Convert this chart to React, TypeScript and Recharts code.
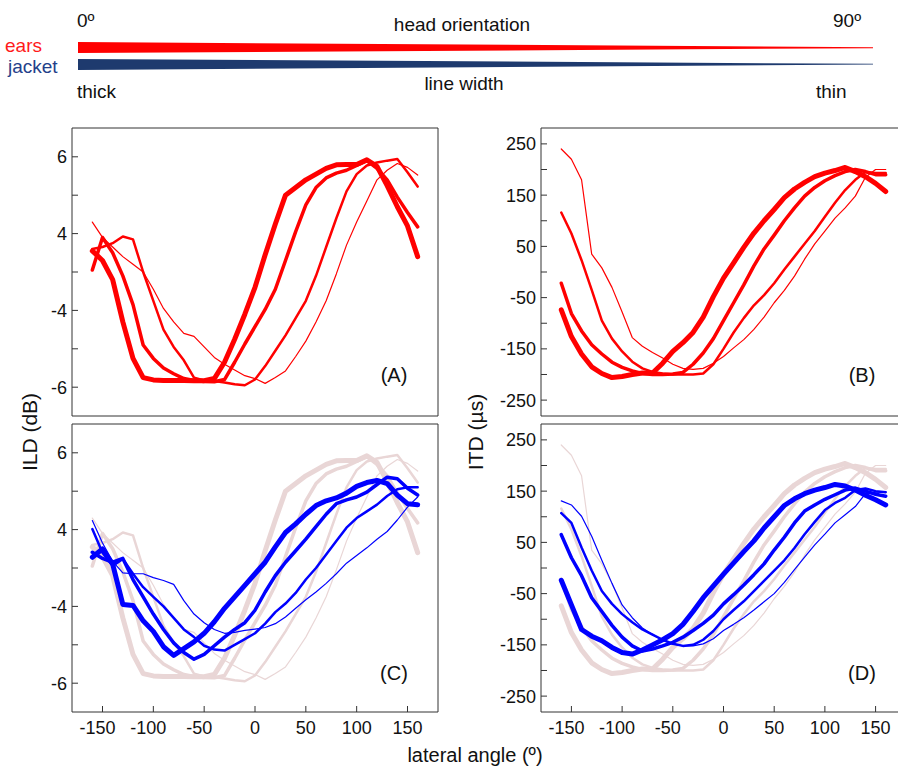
import React from 'react';
import { LineChart, Line, XAxis, YAxis } from 'recharts';

// lateral angle (deg)
const angles = [-160,-150,-140,-130,-120,-110,-100,-90,-80,-70,-60,-50,-40,-30,-20,-10,0,10,20,30,40,50,60,70,80,90,100,110,120,130,140,150,160];

// ILD (dB), ears, head orientation 0 (thick) -> 90 (thin)
const ildEars0 = [1.1,0.6,-0.4,-2.6,-4.5,-5.5,-5.62,-5.65,-5.65,-5.65,-5.66,-5.66,-5.55,-4.7,-3.5,-2.2,-0.8,0.9,2.5,4.0,4.4,4.8,5.1,5.4,5.58,5.6,5.6,5.84,5.5,4.5,3.4,2.4,0.8];
const ildEars30 = [0.1,1.8,1.0,-0.2,-1.7,-3.8,-4.5,-5.0,-5.3,-5.55,-5.65,-5.7,-5.72,-5.6,-4.7,-3.75,-2.85,-1.95,-0.9,0.6,2.1,3.5,4.4,4.9,5.15,5.3,5.55,5.8,5.4,4.8,3.9,3.1,2.35];
const ildEars60 = [1.2,1.3,1.5,1.85,1.7,0.0,-1.5,-3.0,-3.9,-4.6,-5.5,-5.65,-5.68,-5.75,-5.85,-5.9,-5.6,-4.9,-4.1,-3.3,-2.4,-1.5,-0.2,1.3,2.8,4.2,5.1,5.55,5.7,5.8,5.88,5.2,4.45];
const ildEars90 = [2.6,1.8,1.3,0.8,0.4,0.0,-0.9,-1.9,-2.6,-3.2,-3.35,-3.9,-4.45,-4.8,-5.1,-5.4,-5.55,-5.8,-5.5,-5.15,-4.4,-3.6,-2.6,-1.5,-0.1,1.4,2.6,3.7,4.8,5.3,5.65,5.45,5.05];

// ITD (us), ears
const itdEars0 = [-74,-126,-160,-185,-198,-206,-204,-200,-197,-197,-178,-155,-138,-118,-88,-48,-12,18,48,76,100,122,145,162,175,186,193,198,204,196,186,173,157];
const itdEars30 = [-22,-81,-115,-142,-160,-176,-186,-193,-198,-200,-200,-199,-196,-180,-158,-130,-95,-60,-25,12,45,72,100,125,148,165,178,188,196,200,196,190,190];
const itdEars60 = [116,75,23,-35,-95,-130,-155,-175,-188,-195,-198,-200,-200,-200,-198,-180,-150,-118,-90,-65,-45,-22,5,30,55,80,108,135,160,180,195,193,193];
const itdEars90 = [240,220,180,35,8,-30,-78,-128,-145,-157,-168,-180,-188,-190,-188,-178,-165,-148,-132,-112,-88,-60,-36,-8,25,55,80,105,125,148,185,200,200];

// ILD (dB), jacket
const ildJacket0 = [0.56,1.0,0.2,-1.9,-1.95,-2.75,-3.3,-4.1,-4.55,-4.2,-3.85,-3.4,-2.8,-2.1,-1.5,-0.9,-0.3,0.3,1.1,1.85,2.3,2.8,3.25,3.5,3.65,3.9,4.25,4.45,4.56,4.4,3.8,3.35,3.3];
const ildJacket30 = [0.82,0.5,0.3,0.5,-0.6,-1.5,-2.4,-3.2,-3.9,-4.4,-4.75,-4.5,-4.05,-3.6,-3.2,-2.85,-2.2,-1.25,-0.4,0.3,0.9,1.5,2.15,2.8,3.35,3.55,3.7,3.95,4.35,4.73,4.65,4.15,3.8];
const ildJacket60 = [2.03,0.8,0.1,0.47,-0.3,-1.0,-1.5,-2.0,-2.6,-3.2,-3.6,-4.05,-4.25,-4.3,-4.0,-3.7,-3.4,-2.9,-2.3,-1.85,-1.3,-0.6,0.0,0.7,1.4,2.1,2.6,2.95,3.3,3.75,4.1,4.2,4.2];
const ildJacket90 = [2.47,1.3,0.35,-0.25,-0.3,-0.3,-0.5,-0.65,-0.85,-1.7,-2.4,-2.85,-3.2,-3.4,-3.35,-3.25,-3.18,-3.1,-2.9,-2.55,-2.1,-1.65,-1.25,-0.8,-0.3,0.25,0.65,1.05,1.5,1.9,2.5,3.17,3.7];

// ITD (us), jacket
const itdJacket0 = [-24,-72,-120,-133,-142,-155,-165,-168,-160,-150,-140,-128,-110,-85,-58,-35,-12,10,32,53,78,100,122,135,145,152,157,163,160,152,142,133,123];
const itdJacket30 = [65,20,-15,-58,-85,-112,-135,-152,-162,-158,-152,-145,-135,-122,-108,-92,-70,-52,-33,-13,8,35,60,88,111,123,134,143,152,156,150,144,140];
const itdJacket60 = [107,88,40,-5,-45,-70,-90,-106,-120,-130,-140,-148,-152,-150,-140,-123,-100,-82,-65,-45,-25,-5,15,39,66,90,113,127,137,152,155,150,148];
const itdJacket90 = [131,123,101,62,15,-30,-72,-97,-117,-130,-141,-148,-152,-152,-148,-138,-122,-110,-97,-82,-66,-50,-28,-3,21,45,66,88,104,120,145,148,148];

// axis ticks and labels
const angleTicks = [-150,-100,-50,0,50,100,150];
const ildTicks = [-6,-4,-2,0,2,4,6];
const ildTickLabels: Record<string, string> = { '6': '6', '2': '4', '-2': '-4', '-6': '-6' };
const itdTicks = [-250,-200,-150,-100,-50,0,50,100,150,200,250];
const itdTickLabels: Record<string, string> = { '250': '250', '150': '150', '50': '50', '-50': '-50', '-150': '-150', '-250': '-250' };

const widths = [5, 3.5, 2.5, 1.2];
const RED = '#ff0000';
const BLUE = '#0000ff';
const PINK = '#e9d6d6';
const FONT = '"Liberation Sans", Arial, Helvetica, sans-serif';
const AXIS = '#333333';

function buildRows(series: number[][]) {
  return angles.map((a, i) => {
    const row: Record<string, number> = { angle: a };
    series.forEach((s, k) => { row['s' + k] = s[i]; });
    return row;
  });
}

const ildRows = buildRows([ildEars0, ildEars30, ildEars60, ildEars90, ildJacket0, ildJacket30, ildJacket60, ildJacket90]);
const itdRows = buildRows([itdEars0, itdEars30, itdEars60, itdEars90, itdJacket0, itdJacket30, itdJacket60, itdJacket90]);

type LineSpec = { key: string; color: string; width: number };

const earsLines: LineSpec[] = [0, 1, 2, 3].map((k) => ({ key: 's' + k, color: RED, width: widths[k] }));
const fadedLines: LineSpec[] = [0, 1, 2, 3].map((k) => ({ key: 's' + k, color: PINK, width: widths[k] }));
const jacketLines: LineSpec[] = [0, 1, 2, 3].map((k) => ({ key: 's' + (k + 4), color: BLUE, width: widths[k] }));

function XTick(props: any) {
  const { x, y, payload } = props;
  const v = payload.value as number;
  const dx = v < 0 ? -5 : 0;
  return (
    <text x={x + dx} y={y} dy={13} textAnchor="middle" fontSize={18} fontFamily={FONT} fill="#111">
      {String(v)}
    </text>
  );
}

type PanelProps = {
  left: number;
  top: number;
  yAxisWidth: number;
  plotWidth: number;
  rows: Record<string, number>[];
  lines: LineSpec[];
  yDomain: [number, number];
  yTicks: number[];
  yLabels: Record<string, string>;
  showX: boolean;
};

function Panel(p: PanelProps) {
  const mTop = 7;
  const mRight = 1;
  const xh = p.showX ? 40 : 1;
  const mBottom = p.showX ? 0 : 1;
  const width = p.yAxisWidth + p.plotWidth + 1 + mRight;
  const height = mTop + 1 + 288 + xh + mBottom;
  const tickStyle = { fill: '#111', fontSize: 18, fontFamily: FONT };
  return (
    <div style={{ position: 'absolute', left: p.left, top: p.top }}>
      <LineChart width={width} height={height} data={p.rows} margin={{ top: mTop, right: mRight, bottom: mBottom, left: 0 }}>
        <XAxis xAxisId="b" dataKey="angle" type="number" domain={[-180, 180]} ticks={angleTicks} interval={0}
          orientation="bottom" height={xh} tickSize={-6} tickMargin={15} allowDataOverflow
          stroke={AXIS} tick={p.showX ? <XTick /> : false} />
        <XAxis xAxisId="t" dataKey="angle" type="number" domain={[-180, 180]} ticks={angleTicks} interval={0}
          orientation="top" height={1} tickSize={-6} allowDataOverflow stroke={AXIS} tick={false} />
        <YAxis yAxisId="l" type="number" domain={p.yDomain} ticks={p.yTicks} interval={0} width={p.yAxisWidth}
          tickSize={-6} tickMargin={11} allowDataOverflow stroke={AXIS} tick={tickStyle}
          tickFormatter={(v: number) => p.yLabels[String(v)] ?? ''} />
        <YAxis yAxisId="r" orientation="right" type="number" domain={p.yDomain} ticks={p.yTicks} interval={0} width={1}
          tickSize={-6} allowDataOverflow stroke={AXIS} tick={false} />
        {p.lines.map((s, i) => (
          <Line key={i} xAxisId="b" yAxisId="l" type="linear" dataKey={s.key} stroke={s.color}
            strokeWidth={s.width} dot={false} activeDot={false} isAnimationActive={false}
            strokeLinejoin="round" strokeLinecap="round" />
        ))}
      </LineChart>
    </div>
  );
}

export default function App() {
  const ILD_DOMAIN: [number, number] = [-7.5, 7.5];
  const ITD_DOMAIN: [number, number] = [-281, 281];
  return (
    <div style={{ position: 'absolute', left: 0, top: 0, width: 898, height: 767, overflow: 'hidden', background: '#fff', fontFamily: FONT }}>
      <Panel left={0} top={120} yAxisWidth={72} plotWidth={366} rows={ildRows} lines={earsLines}
        yDomain={ILD_DOMAIN} yTicks={ildTicks} yLabels={ildTickLabels} showX={false} />
      <Panel left={470} top={120} yAxisWidth={71} plotWidth={365} rows={itdRows} lines={earsLines}
        yDomain={ITD_DOMAIN} yTicks={itdTicks} yLabels={itdTickLabels} showX={false} />
      <Panel left={0} top={416} yAxisWidth={72} plotWidth={366} rows={ildRows} lines={[...fadedLines, ...jacketLines]}
        yDomain={ILD_DOMAIN} yTicks={ildTicks} yLabels={ildTickLabels} showX={true} />
      <Panel left={470} top={416} yAxisWidth={71} plotWidth={365} rows={itdRows} lines={[...fadedLines, ...jacketLines]}
        yDomain={ITD_DOMAIN} yTicks={itdTicks} yLabels={itdTickLabels} showX={true} />

      <svg width={898} height={767} style={{ position: 'absolute', left: 0, top: 0, pointerEvents: 'none' }}
        fontFamily={FONT}>
        {/* header legend */}
        <text x={77} y={27} fontSize={19} fill="#111">0º</text>
        <text x={462} y={31} fontSize={19} fill="#111" textAnchor="middle">head orientation</text>
        <text x={833} y={27} fontSize={19} fill="#111">90º</text>
        <text x={5} y={51.5} fontSize={19} fill="#ff1a1a">ears</text>
        <text x={8} y={73} fontSize={19} fill="#24408a">jacket</text>
        <polygon points="78,42 873,47.2 873,48.2 78,53" fill="#ff0000" />
        <polygon points="78,59 873,63.8 873,64.6 78,70" fill="#1e3a6e" />
        <text x={77} y={98} fontSize={19} fill="#111">thick</text>
        <text x={464} y={90} fontSize={19} fill="#111" textAnchor="middle">line width</text>
        <text x={816} y={98} fontSize={19} fill="#111">thin</text>

        {/* panel letters */}
        <text x={394} y={382} fontSize={20} fill="#111" textAnchor="middle">(A)</text>
        <text x={862} y={382} fontSize={20} fill="#111" textAnchor="middle">(B)</text>
        <text x={394} y={680} fontSize={20} fill="#111" textAnchor="middle">(C)</text>
        <text x={862} y={680} fontSize={20} fill="#111" textAnchor="middle">(D)</text>

        {/* axis titles */}
        <text transform="translate(37,432) rotate(-90)" fontSize={21} fill="#111" textAnchor="middle">ILD (dB)</text>
        <text transform="translate(483,432) rotate(-90)" fontSize={21} fill="#111" textAnchor="middle">ITD (µs)</text>
        <text x={475} y={762} fontSize={20} fill="#111" textAnchor="middle">lateral angle (º)</text>
      </svg>
    </div>
  );
}
